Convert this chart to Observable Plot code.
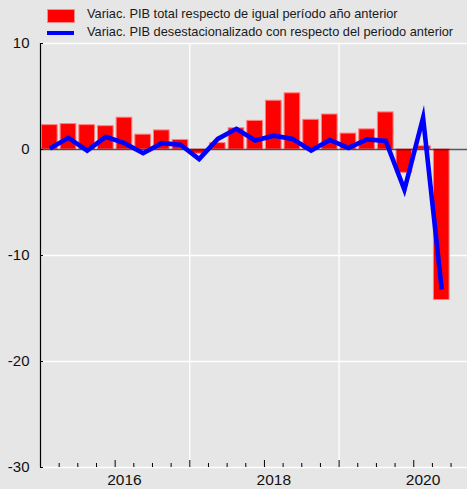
<!DOCTYPE html>
<html>
<head>
<meta charset="utf-8">
<script src="https://cdn.jsdelivr.net/npm/d3@7"></script>
<script src="https://cdn.jsdelivr.net/npm/@observablehq/plot@0.6"></script>
<style>
  html, body { margin: 0; padding: 0; background: #e6e6e6; }
  body { width: 467px; height: 489px; overflow: hidden; font-family: "Liberation Sans", Arial, sans-serif; }
  #legend { position: relative; height: 38px; }
  .sw { position: absolute; }
  .lt { position: absolute; font-size: 12.8px; line-height: 12.8px; color: #1a1a1a; white-space: nowrap; }
</style>
</head>
<body>
<div id="legend"></div>
<div id="chart"></div>
<script>
// Quarterly data 2015T1 .. 2020T2
const years    = [2015,2015,2015,2015,2016,2016,2016,2016,2017,2017,2017,2017,2018,2018,2018,2018,2019,2019,2019,2019,2020,2020];
const quarters = [1,2,3,4,1,2,3,4,1,2,3,4,1,2,3,4,1,2,3,4,1,2];
// Variación PIB total respecto de igual período año anterior (%)
const pibTotal  = [2.3,2.4,2.3,2.2,3.0,1.4,1.8,0.9,-0.4,0.6,2.0,2.7,4.6,5.3,2.8,3.3,1.5,1.9,3.5,-2.2,0.3,-14.2];
// Variación PIB desestacionalizado con respecto del periodo anterior (%)
const pibDesest = [0.1,1.1,-0.1,1.2,0.6,-0.35,0.6,0.45,-0.9,1.0,1.95,0.85,1.3,1.0,-0.1,0.9,0.15,0.95,0.8,-3.8,3.0,-13.2];

const legendLabels = [
  "Variac. PIB total respecto de igual período año anterior",
  "Variac. PIB desestacionalizado con respecto del periodo anterior"
];
const yTicks = [10, 0, -10, -20, -30];
const yGrid = [10, -10, -20, -30];
const majorTicks = [2016, 2017, 2018, 2019, 2020];
const gridYears = [2017, 2019];
const labelYears = [2016, 2018, 2020];

const data = years.map((y, i) => ({
  start: y + (quarters[i] - 1) / 4,
  end: y + quarters[i] / 4,
  mid: y + (quarters[i] - 0.5) / 4,
  total: pibTotal[i],
  desest: pibDesest[i]
}));
const boundaries = data.map(d => d.start).concat([data[data.length - 1].end]);
const minorTicks = boundaries.filter(t => !Number.isInteger(t));
const labelPositions = labelYears.map(y => y + 0.125);

// Legend
const lg = document.getElementById("legend");
lg.innerHTML = `
  <div class="sw" style="left:47px;top:9px;width:26px;height:12px;background:#ff0000;border:0.5px solid #ff8a8a;"></div>
  <div class="lt" style="left:87px;top:8.3px;">${legendLabels[0]}</div>
  <div class="sw" style="left:47px;top:30.8px;width:27px;height:4px;background:#0000ff;"></div>
  <div class="lt" style="left:87px;top:26px;">${legendLabels[1]}</div>
`;

const chart = Plot.plot({
  width: 467,
  height: 451,
  marginTop: 5,
  marginBottom: 22,
  marginLeft: 40,
  marginRight: 0,
  x: { domain: [2015, 2020.72] },
  y: { domain: [-30, 10] },
  style: {
    background: "transparent",
    fontFamily: "'Liberation Sans', Arial, sans-serif",
    fontSize: "15px",
    color: "#111",
    overflow: "visible"
  },
  marks: [
    Plot.ruleY(yGrid, { stroke: "#ffffff", strokeWidth: 1.3 }),
    Plot.ruleX(gridYears, { stroke: "#ffffff", strokeWidth: 1.3 }),
    Plot.rectY(data, {
      x1: "start", x2: "end", y: "total",
      insetLeft: 1.5, insetRight: 1.5,
      fill: "#ff0000", stroke: "#ff7f7f", strokeWidth: 1
    }),
    Plot.ruleY([0], { stroke: "#000", strokeOpacity: 0.62, strokeWidth: 1.6 }),
    Plot.line(data, {
      x: "mid", y: "desest",
      stroke: "#0000ff", strokeWidth: 4.6,
      strokeLinejoin: "miter", strokeMiterlimit: 12, strokeLinecap: "butt"
    }),
    Plot.ruleX([2015], { stroke: "#000", strokeWidth: 1.2 }),
    Plot.axisY({ ticks: yTicks, tickSize: -3, tickPadding: 14, stroke: "#000", fontSize: 15, tickFormat: d => String(d) }),
    Plot.axisX({ ticks: minorTicks, tickSize: -4, tickFormat: () => "", stroke: "#000" }),
    Plot.axisX({ ticks: majorTicks, tickSize: -7, tickFormat: () => "", stroke: "#000" }),
    Plot.axisX({ ticks: labelPositions, tickSize: 0, tickPadding: 6, fontSize: 15.5, tickFormat: d => String(Math.floor(d)) })
  ]
});
document.getElementById("chart").appendChild(chart);
</script>
</body>
</html>
